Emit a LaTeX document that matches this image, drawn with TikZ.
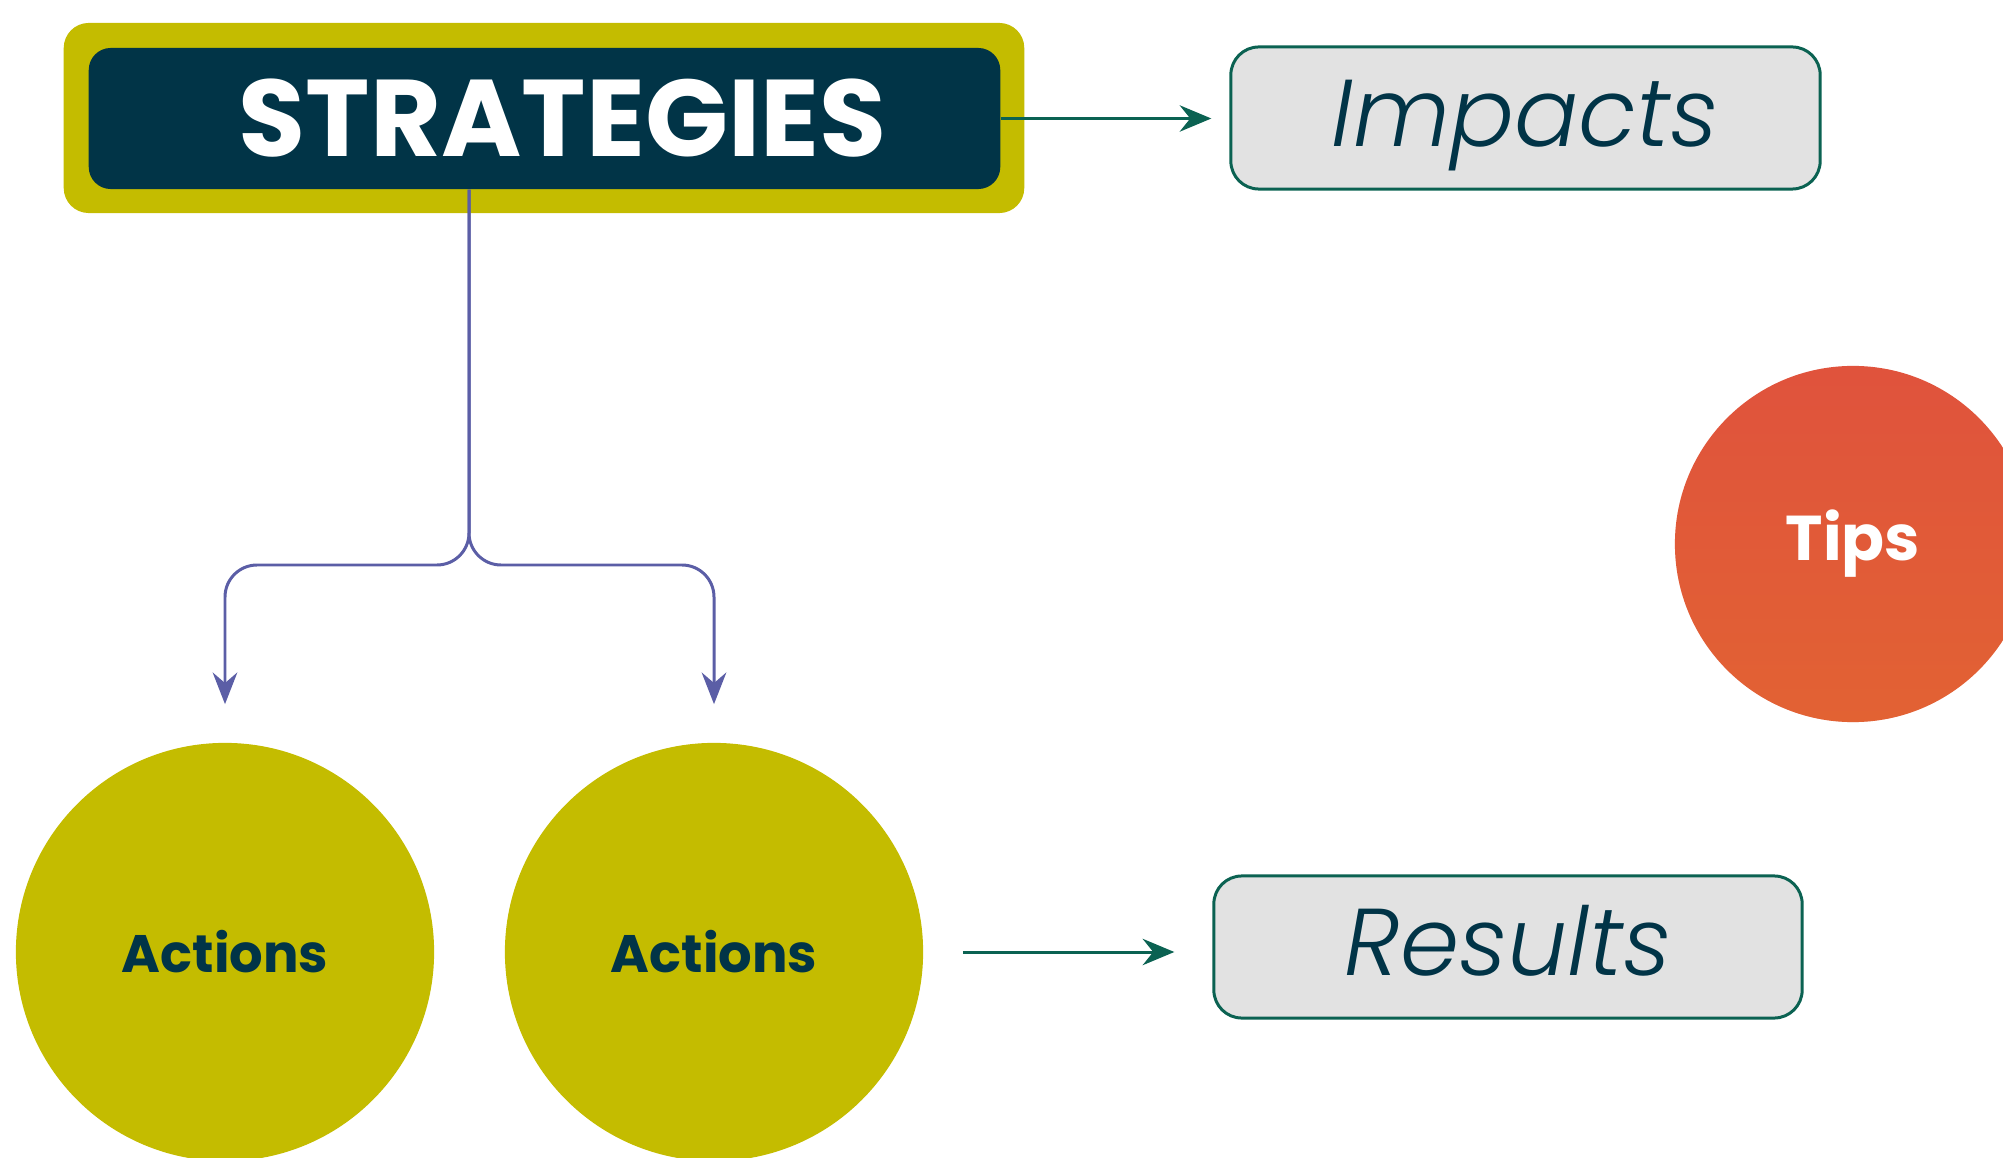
\documentclass[tikz,border=0pt]{standalone}
\usepackage{fontspec}
\setmainfont{Poppins}
\newfontfamily\poplight{Poppins}[UprightFont={* Light}, ItalicFont={* Light Italic}]
\usetikzlibrary{arrows.meta,positioning,calc,fadings}
\definecolor{olivefill}{HTML}{C4BC00}
\definecolor{navyfill}{HTML}{013447}
\definecolor{boxgray}{HTML}{E2E2E2}
\definecolor{boxteal}{HTML}{0B6252}
\definecolor{forkblue}{HTML}{5B5EA6}
\definecolor{tipsred}{HTML}{E0533D}
\definecolor{tipsgrain}{HTML}{E8861E}

\begin{document}
\begin{tikzpicture}[x=0.01cm, y=-0.01cm,
    outerbox/.style={fill=olivefill, rounded corners=0.25cm, inner sep=0,
      minimum width=9.6cm, minimum height=1.9cm},
    innerbox/.style={fill=navyfill, rounded corners=0.22cm, inner sep=0,
      minimum width=9.11cm, minimum height=1.41cm, text=white,
      font=\fontsize{31}{31}\selectfont\bfseries},
    greybox/.style={fill=boxgray, draw=boxteal, line width=0.85pt,
      rounded corners=0.28cm, inner sep=0, minimum height=1.42cm,
      text height=0.66cm, text depth=0.1cm,
      text=navyfill, font=\fontsize{27}{27}\selectfont\poplight\itshape},
    actcircle/.style={circle, fill=olivefill, minimum size=4.18cm, inner sep=0,
      text=navyfill, font=\fontsize{15}{15}\selectfont\bfseries},
    tealarrow/.style={draw=boxteal, line width=0.85pt,
      -{Stealth[length=9pt, width=7.5pt, inset=3pt]}},
    fork/.style={draw=forkblue, line width=0.85pt, rounded corners=0.32cm,
      -{Stealth[length=9pt, width=7pt, inset=3pt]}}]
    %%%%% START %%%%%
    \useasboundingbox (0,0) rectangle (2003,1158);
    \clip (0,0) rectangle (2003,1158);

    % strategy box
    \node[outerbox] (strat) at (544,118) {};
    \node[innerbox] (inner) at (544.5,118.5) {\hspace{0.36cm}STRATEGIES};

    % right column
    \node[greybox, minimum width=5.89cm] (impacts) at (1525.5,118) {Impacts};
    \node[greybox, minimum width=5.88cm] (results) at (1508,947) {Results};
    \fill[tipsred] (1853,544) circle (1.78cm);
    \fill[tipsgrain, fill opacity=0.3, path fading=north] (1853,544) circle (1.78cm);
    \node[circle, minimum size=3.56cm, inner sep=0, text=white,
      font=\fontsize{18}{18}\selectfont\bfseries] (tips) at (1853,544) {Tips};

    % actions
    \node[actcircle] (act1) at (225,952) {Actions};
    \node[actcircle] (act2) at (714,952) {Actions};

    % connectors
    \coordinate (split) at (469,565);
    \draw[tealarrow, shorten >=0.18cm] (inner.east) -- (inner.east -| impacts.west);
    \draw[fork, shorten >=0.38cm] (inner.south -| split) -- (split) -| (act1.north);
    \draw[fork, shorten >=0.38cm] (inner.south -| split) -- (split) -| (act2.north);
    \draw[tealarrow, shorten <=0.39cm, shorten >=0.38cm] (act2.east) -- (act2.east -| results.west);
    %%%%% END %%%%%
\end{tikzpicture}
\end{document}
